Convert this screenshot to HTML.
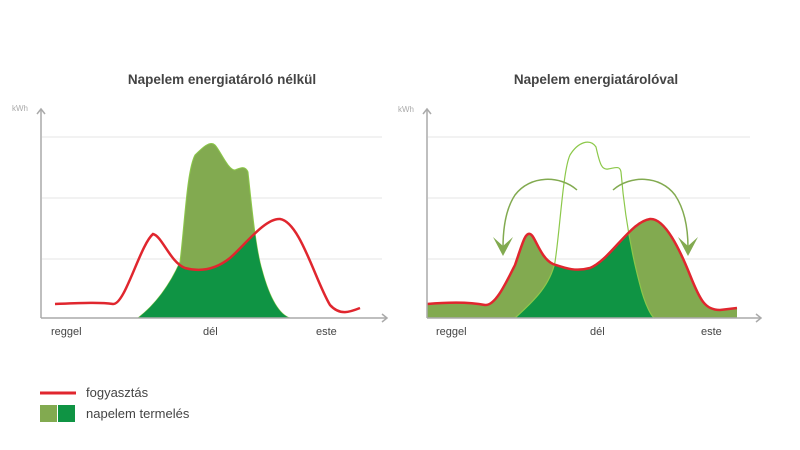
<!DOCTYPE html>
<html><head><meta charset="utf-8"><style>
html,body{margin:0;padding:0;background:#fff;}
svg{display:block;font-family:"Liberation Sans",sans-serif;}
</style></head><body>
<svg width="800" height="450" viewBox="0 0 800 450">
<defs>
<clipPath id="cl"><path d="M55,304 C80,303 100,302 113,304 C125,305 140,245 153,234 C162,236 170,262 185,268 C200,272 215,270 230,258 C245,245 265,218 280,219 C300,222 315,280 330,305 C340,316 350,312 360,308 L360,318 L55,318 Z"/></clipPath>
<clipPath id="cr"><path d="M427,304 C450,302 470,302 485,305 C495,306 505,285 515,265 C522,245 525,232 530,234 C535,235 540,258 553,264 C565,268 575,272 590,268 C610,260 630,222 650,219 C665,218 680,250 690,275 C700,300 705,310 720,310 L737,308 L737,318 L427,318 Z"/></clipPath>
</defs>
<text x="222" y="84" text-anchor="middle" font-size="13.5" font-weight="bold" fill="#444">Napelem energiatároló nélkül</text>
<text x="596" y="84" text-anchor="middle" font-size="13.5" font-weight="bold" fill="#444">Napelem energiatárolóval</text>
<text x="12" y="111" font-size="8" fill="#aaa">kWh</text>
<text x="398" y="112" font-size="8" fill="#aaa">kWh</text>
<g stroke="#eee" stroke-width="1.5">
<line x1="42" y1="137" x2="382" y2="137"/><line x1="42" y1="198" x2="382" y2="198"/><line x1="42" y1="259" x2="382" y2="259"/>
<line x1="428" y1="137" x2="750" y2="137"/><line x1="428" y1="198" x2="750" y2="198"/><line x1="428" y1="259" x2="750" y2="259"/>
</g>
<!-- left -->
<path d="M138,318 C155,305 170,285 180,262 C185,220 187,170 195,155 C202,148 210,140 215,145 C220,150 228,170 235,170 C240,168 245,165 248,172 C252,210 256,250 262,270 C270,300 280,315 290,318 Z" fill="#82aa50" stroke="#8cc84a" stroke-width="1"/>
<path clip-path="url(#cl)" d="M138,318 C155,305 170,285 180,262 C185,220 187,170 195,155 C202,148 210,140 215,145 C220,150 228,170 235,170 C240,168 245,165 248,172 C252,210 256,250 262,270 C270,300 280,315 290,318 Z" fill="#0f9444"/>
<path d="M55,304 C80,303 100,302 113,304 C125,305 140,245 153,234 C162,236 170,262 185,268 C200,272 215,270 230,258 C245,245 265,218 280,219 C300,222 315,280 330,305 C340,316 350,312 360,308" fill="none" stroke="#e0262e" stroke-width="2.5"/>
<!-- right -->
<path d="M427,304 C450,302 470,302 485,305 C495,306 505,285 515,265 C522,245 525,232 530,234 C535,235 540,258 553,264 C565,268 575,272 590,268 C610,260 630,222 650,219 C665,218 680,250 690,275 C700,300 705,310 720,310 L737,308 L737,318 L427,318 Z" fill="#82aa50"/>
<path clip-path="url(#cr)" d="M515,318 C535,300 550,285 555,262 C560,230 563,170 570,155 C578,142 590,138 596,147 C600,165 602,170 608,169 C615,168 620,165 621,172 C625,220 632,255 640,285 C645,305 652,318 655,318 Z" fill="#0f9444"/>
<path d="M515,318 C535,300 550,285 555,262 C560,230 563,170 570,155 C578,142 590,138 596,147 C600,165 602,170 608,169 C615,168 620,165 621,172 C625,220 632,255 640,285 C645,305 652,318 655,318" fill="none" stroke="#8cc84a" stroke-width="1.2"/>
<path d="M427,304 C450,302 470,302 485,305 C495,306 505,285 515,265 C522,245 525,232 530,234 C535,235 540,258 553,264 C565,268 575,272 590,268 C610,260 630,222 650,219 C665,218 680,250 690,275 C700,300 705,310 720,310 L737,308" fill="none" stroke="#e0262e" stroke-width="2.5"/>
<g fill="none" stroke="#82aa50" stroke-width="1.5">
<path d="M577,190 C560,175 530,175 515,195 C505,210 503,230 503,248"/>
<path d="M613,190 C630,175 660,175 675,195 C685,210 688,230 688,248"/>
</g>
<g fill="#82aa50">
<polygon points="493,237 503,256 513,237 503,246"/>
<polygon points="678,237 688,256 698,237 688,246"/>
</g>
<!-- axes -->
<g stroke="#aaa" stroke-width="1.5" fill="none">
<line x1="41" y1="318" x2="41" y2="109"/><polyline points="37,114 41,109 45,114"/>
<line x1="41" y1="318" x2="387" y2="318"/><polyline points="382,314 387,318 382,322"/>
<line x1="427" y1="318" x2="427" y2="109"/><polyline points="423,114 427,109 431,114"/>
<line x1="427" y1="318" x2="761" y2="318"/><polyline points="756,314 761,318 756,322"/>
</g>
<g font-size="11" fill="#444">
<text x="51" y="335">reggel</text><text x="203" y="335">dél</text><text x="316" y="335">este</text>
<text x="436" y="335">reggel</text><text x="590" y="335">dél</text><text x="701" y="335">este</text>
</g>
<!-- legend -->
<line x1="40" y1="393" x2="76" y2="393" stroke="#e0262e" stroke-width="3"/>
<rect x="40" y="405" width="17" height="17" fill="#82aa50"/>
<rect x="58" y="405" width="17" height="17" fill="#0f9444"/>
<text x="86" y="397" font-size="13" fill="#444">fogyasztás</text>
<text x="86" y="418" font-size="13" fill="#444">napelem termelés</text>
</svg>
</body></html>
